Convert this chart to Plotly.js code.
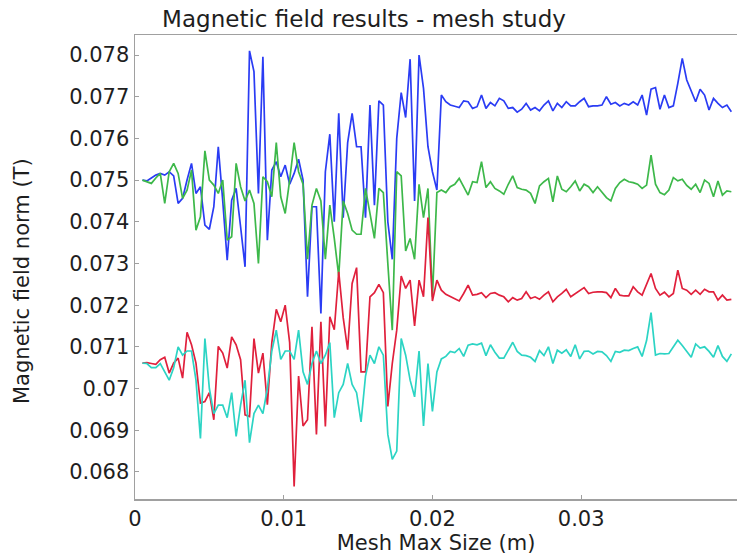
<!DOCTYPE html>
<html>
<head>
<meta charset="utf-8">
<script src="https://cdn.plot.ly/plotly-3.0.1.min.js"></script>
<style>html,body{margin:0;padding:0;background:#fff;}#chart{width:737px;height:557px;}</style>
</head>
<body>
<div id="chart"></div>
<script>
// Mesh max size (m)
const meshSize = [
0.0005,0.0008,0.0011,0.0014,0.0017,0.0020,0.0023,0.0026,0.0029,0.0032,
0.0035,0.0038,0.0041,0.0044,0.0047,0.0050,0.0053,0.0056,0.0059,0.0062,
0.0065,0.0068,0.0071,0.0074,0.0077,0.0080,0.0083,0.0086,0.0089,0.0092,
0.0095,0.0098,0.0101,0.0104,0.0107,0.0110,0.0113,0.0116,0.0119,0.0122,
0.0125,0.0128,0.0131,0.0134,0.0137,0.0140,0.0143,0.0146,0.0149,0.0152,
0.0155,0.0158,0.0161,0.0164,0.0167,0.0170,0.0173,0.0176,0.0179,0.0182,
0.0185,0.0188,0.0191,0.0194,0.0197,0.0200,0.0203,0.0206,0.0209,0.0212,
0.0215,0.0218,0.0221,0.0224,0.0227,0.0230,0.0233,0.0236,0.0239,0.0242,
0.0245,0.0248,0.0251,0.0254,0.0257,0.0260,0.0263,0.0266,0.0269,0.0272,
0.0275,0.0278,0.0281,0.0284,0.0287,0.0290,0.0293,0.0296,0.0299,0.0302,
0.0305,0.0308,0.0311,0.0314,0.0317,0.0320,0.0323,0.0326,0.0329,0.0332,
0.0335,0.0338,0.0341,0.0344,0.0347,0.0350,0.0353,0.0356,0.0359,0.0362,
0.0365,0.0368,0.0371,0.0374,0.0377,0.0380,0.0383,0.0386,0.0389,0.0392,
0.0395,0.0398,0.0401];

const blueSeries = [
0.0750,0.07498,0.07505,0.07512,0.07516,0.07512,0.0752,0.0751,0.07444,0.07456,
0.0750,0.0754,0.07468,0.07484,0.07392,0.07382,0.07436,0.0758,0.0745,0.07308,
0.07452,0.0748,0.07388,0.07292,0.0781,0.0776,0.07468,0.07796,0.07356,0.07524,
0.07544,0.07508,0.07536,0.0749,0.07516,0.0755,0.0750,0.0722,0.07436,0.07436,
0.0718,0.0752,0.0761,0.0740,0.0766,0.0741,0.0759,0.0766,0.0758,0.0758,
0.0741,0.0768,0.0744,0.0769,0.0768,0.0740,0.0731,0.0760,0.0771,0.0765,
0.0779,0.0745,0.0780,0.0772,0.0758,0.0752,0.07476,0.07704,0.07688,0.0768,
0.07677,0.07674,0.0769,0.07688,0.07672,0.07676,0.07704,0.07672,0.07686,0.07678,
0.07696,0.0769,0.07672,0.07674,0.07663,0.0767,0.07684,0.07668,0.07674,0.07666,
0.0768,0.0769,0.07666,0.07684,0.07674,0.07688,0.07678,0.07678,0.07688,0.07696,
0.07676,0.07678,0.07678,0.0768,0.077,0.07682,0.07686,0.07678,0.07684,0.0768,
0.07688,0.0768,0.07704,0.07656,0.07718,0.07722,0.0767,0.07704,0.07674,0.07678,
0.07732,0.07792,0.0774,0.07712,0.07688,0.07718,0.07704,0.07668,0.07696,0.07684,
0.07674,0.0768,0.07664];

const greenSeries = [
0.0750,0.07496,0.07492,0.07505,0.07516,0.07444,0.0752,0.0754,0.07516,0.07456,
0.07476,0.07524,0.0738,0.07412,0.0757,0.0750,0.07488,0.07468,0.0750,0.07356,
0.07364,0.0754,0.07484,0.0745,0.07476,0.07444,0.0730,0.07508,0.07496,0.0746,
0.0759,0.0746,0.0742,0.0750,0.0759,0.0752,0.0749,0.0731,0.0744,0.0748,
0.0745,0.0731,0.0744,0.0736,0.0727,0.0745,0.0742,0.0738,0.0737,0.0737,
0.0748,0.0742,0.0736,0.0748,0.0747,0.0730,0.0714,0.0752,0.0751,0.0733,
0.0736,0.0731,0.0749,0.0741,0.0748,0.0722,0.0747,0.07476,0.0747,0.07484,
0.0749,0.07504,0.07484,0.07464,0.07496,0.07494,0.07544,0.07482,0.07496,0.0748,
0.07474,0.07466,0.0749,0.0751,0.07482,0.07478,0.07476,0.07468,0.07444,0.07486,
0.07496,0.07504,0.07448,0.0751,0.07478,0.07472,0.07484,0.07498,0.07474,0.0749,
0.07484,0.0747,0.07484,0.0747,0.07458,0.0745,0.0748,0.07494,0.07502,0.07496,
0.07494,0.0749,0.0748,0.07488,0.0756,0.0749,0.0747,0.07465,0.07476,0.07506,
0.07498,0.07502,0.07487,0.07478,0.0749,0.0747,0.075,0.07492,0.0746,0.07498,
0.07464,0.07474,0.07472];

const redSeries = [
0.07061,0.07062,0.0706,0.07058,0.07069,0.07075,0.07037,0.07061,0.07073,0.07025,
0.07135,0.07105,0.07061,0.06965,0.06969,0.0699,0.06925,0.07101,0.07085,0.07049,
0.07124,0.07105,0.07069,0.06937,0.06933,0.0712,0.07037,0.07085,0.06961,0.0711,
0.0719,0.0716,0.0720,0.0711,0.06765,0.0703,0.0691,0.06925,0.07148,0.0689,
0.0716,0.06909,0.07172,0.07141,0.0728,0.0717,0.07093,0.07252,0.0729,0.0704,
0.0704,0.0722,0.0723,0.0725,0.0723,0.06957,0.0706,0.0714,0.0727,0.0724,
0.0726,0.0715,0.0726,0.0722,0.0741,0.0721,0.0726,0.07236,0.07226,0.0722,
0.07216,0.0721,0.07228,0.07248,0.07224,0.07226,0.0723,0.07218,0.07228,0.0723,
0.07224,0.0722,0.07208,0.07218,0.07212,0.07216,0.07232,0.07216,0.0722,0.07214,
0.07224,0.07232,0.07208,0.0722,0.07228,0.07238,0.0722,0.07228,0.07236,0.07242,
0.07228,0.07231,0.07232,0.07232,0.0723,0.07218,0.0724,0.07224,0.07222,0.07222,
0.07244,0.07232,0.07224,0.07252,0.07276,0.0724,0.07224,0.07231,0.0722,0.07228,
0.07284,0.0724,0.07236,0.07226,0.07236,0.07226,0.07238,0.07232,0.07232,0.07212,
0.07224,0.07212,0.07214];

const cyanSeries = [
0.07061,0.0706,0.0705,0.0705,0.0706,0.0704,0.0702,0.0705,0.0710,0.0708,
0.0709,0.0709,0.0702,0.0688,0.0712,0.0700,0.0694,0.0696,0.0696,0.0693,
0.0699,0.06885,0.0696,0.0702,0.0687,0.0694,0.0696,0.0694,0.0700,0.0709,
0.0714,0.0707,0.0709,0.0709,0.0707,0.0714,0.0704,0.0701,0.0706,0.0709,
0.0706,0.0708,0.0711,0.0693,0.0699,0.0701,0.0706,0.0701,0.0699,0.0692,
0.0703,0.0708,0.0706,0.0710,0.0708,0.0689,0.0683,0.0685,0.0712,0.0708,
0.0702,0.0698,0.0709,0.0691,0.0706,0.06945,0.0704,0.07071,0.07077,0.07089,
0.07086,0.07096,0.07077,0.07104,0.07107,0.07105,0.07109,0.07079,0.07105,0.07087,
0.07073,0.07073,0.07092,0.07111,0.07089,0.0708,0.07079,0.07075,0.07065,0.07091,
0.07079,0.071,0.0706,0.07092,0.07085,0.07093,0.07077,0.07105,0.07071,0.07089,
0.0709,0.07083,0.07089,0.07088,0.07079,0.07065,0.07089,0.07087,0.07092,0.07091,
0.07096,0.071,0.07077,0.07115,0.07182,0.0708,0.07084,0.07083,0.07084,0.071,
0.07116,0.07103,0.07088,0.07075,0.07107,0.07097,0.071,0.07089,0.07075,0.07103,
0.07077,0.07065,0.07083];

const xTickVals = [0, 0.01, 0.02, 0.03];
const xTickText = ['0', '0.01', '0.02', '0.03'];
const yTickVals = [0.068,0.069,0.070,0.071,0.072,0.073,0.074,0.075,0.076,0.077,0.078];
const yTickText = ['0.068','0.069','0.07','0.071','0.072','0.073','0.074','0.075','0.076','0.077','0.078'];

const FONT = 'DejaVu Sans, sans-serif';
const TXT = '#1e1e1e';

function line(y, color) {
  return {x: meshSize, y: y, type: 'scatter', mode: 'lines',
          line: {color: color, width: 1.7}, hoverinfo: 'skip', showlegend: false};
}

const data = [
  line(blueSeries, '#2a3cf4'),
  line(greenSeries, '#3db84a'),
  line(redSeries, '#e0203c'),
  line(cyanSeries, '#2cd4c4')
];

const axisCommon = {
  showgrid: false, zeroline: false, showline: true,
  linecolor: '#a0a0a0', linewidth: 1.5,
  ticks: 'inside', ticklen: 4, tickcolor: '#a0a0a0', tickwidth: 1,
  tickfont: {family: FONT, size: 21, color: TXT}
};

const layout = {
  width: 737, height: 557,
  margin: {l: 135, r: 0, t: 35, b: 58, pad: 0},
  paper_bgcolor: '#ffffff', plot_bgcolor: '#ffffff',
  font: {family: FONT, size: 21, color: TXT},
  title: {text: 'Magnetic field results - mesh study',
          font: {family: FONT, size: 23, color: TXT},
          x: 364/737, xref: 'container', xanchor: 'center',
          y: 1 - 19/557, yref: 'container', yanchor: 'middle'},
  xaxis: Object.assign({}, axisCommon, {
    mirror: true,
    range: [0, 0.04048], tickmode: 'array', tickvals: xTickVals, ticktext: xTickText,
    title: {text: 'Mesh Max Size (m)', font: {family: FONT, size: 21, color: TXT}, standoff: 0}
  }),
  yaxis: Object.assign({}, axisCommon, {
    mirror: false,
    range: [0.06735, 0.07848], tickmode: 'array', tickvals: yTickVals, ticktext: yTickText
  }),
  annotations: [{
    text: 'Magnetic field norm (T)', textangle: -90,
    xref: 'paper', yref: 'paper', x: (22 - 135) / 602, y: (499 - 281) / 464,
    xanchor: 'center', yanchor: 'middle', showarrow: false,
    font: {family: FONT, size: 21, color: TXT}
  }]
};

Plotly.newPlot('chart', data, layout, {displayModeBar: false, staticPlot: true});
</script>
</body>
</html>
